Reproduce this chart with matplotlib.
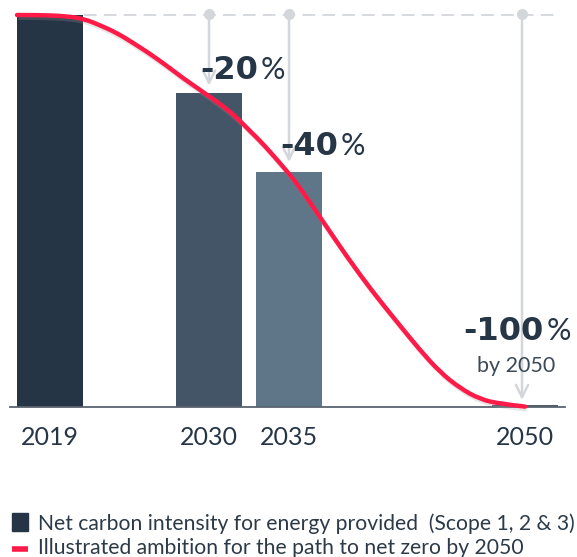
import matplotlib
matplotlib.use("Agg")
import matplotlib.pyplot as plt
from matplotlib.path import Path
from matplotlib.patches import PathPatch
from matplotlib.transforms import Affine2D

plt.rcParams['font.family'] = ['Lato', 'DejaVu Sans']

# data
years = ['2019', '2030', '2035', '2050']
intensity = [100, 80, 60, 0.4]
reduction = ['-20', '-40', '-100']
reduction_years = ['2030', '2035', '2050']

# red ambition path (x in layout px, value in % of 2019)
path_x = [17, 40, 67, 84, 100, 117, 133, 150, 167, 183, 200, 210, 220, 230, 240, 250,
          260, 270, 280, 290, 300, 322, 347, 372, 397, 420, 440, 460, 480, 500, 525]
path_v = [100, 100, 99.7, 99.0, 97.4, 95.4, 92.9, 90.1, 87.0, 83.9, 80.9, 79.1, 77.3,
          75.3, 73.0, 70.4, 67.9, 65.1, 62.2, 59.2, 55.9, 47.7, 38.3, 29.6, 21.7, 14.5,
          8.9, 4.8, 2.0, 0.8, 0.1]

legend_labels = ['Net carbon intensity for energy provided  (Scope 1, 2 & 3)',
                 'Illustrated ambition for the path to net zero by 2050']

# layout
bar_x = [50, 209, 289, 525]
bar_w = 66
bar_colors = ['#253545', '#435566', '#5f7588', '#4e5c6a']
red = '#ff1a48'
grey = '#d3d7db'
dark = '#263646'

fig = plt.figure(figsize=(5.77, 5.57), dpi=100)
ax = fig.add_axes([0, 0, 1, 1])
ax.set_xlim(0, 577)
ax.set_ylim(-38.27, 103.83)
ax.axis('off')

ax.bar(bar_x, intensity, width=bar_w, color=bar_colors, zorder=2)

# baseline
ax.plot([10, 565], [0, 0], color='#5a6470', lw=1.3, zorder=3)

# dashed line at 2019 level
ax.plot([84, 560], [100, 100], color=grey, lw=1.3, dashes=(7, 4), zorder=1)

# arrows from 2019 level down to each target
tips = {'2030': 82.0, '2035': 62.5, '2050': 1.8}
for yr in reduction_years:
    x = bar_x[years.index(yr)]
    if yr == '2050':
        x = 522
    ax.annotate('', xy=(x, tips[yr]), xytext=(x, 100.3),
                arrowprops=dict(arrowstyle='->', color=grey, lw=1.8,
                                mutation_scale=22, shrinkA=0, shrinkB=0), zorder=1)
    ax.plot(x, 100.3, 'o', color=grey, ms=8, mec='none', zorder=1)

# ambition curve, smoothed with quadratic segments through midpoints
pts = list(zip(path_x, path_v))
verts = [pts[0]]
codes = [Path.MOVETO]
for i in range(1, len(pts) - 1):
    mid = ((pts[i][0] + pts[i + 1][0]) / 2, (pts[i][1] + pts[i + 1][1]) / 2)
    verts += [pts[i], mid if i < len(pts) - 2 else pts[i + 1]]
    codes += [Path.CURVE3, Path.CURVE3]
path = Path(verts, codes)
shadow = PathPatch(path, fill=False, edgecolor='#999999', lw=3.5, alpha=0.25,
                   zorder=3.9, transform=ax.transData + Affine2D().translate(1.5, -2.5))
ax.add_patch(shadow)
ax.add_patch(PathPatch(path, fill=False, edgecolor=red, lw=3.2, capstyle='round', zorder=4))

# reduction labels
fig.canvas.draw()
rend = fig.canvas.get_renderer()
lab_pos = [(200, 83.7), (280, 64.3), (463, 17.1)]
for txt, (xl, v) in zip(reduction, lab_pos):
    t = ax.text(xl, v, txt, fontsize=23, fontweight='bold', color=dark,
                family=['DejaVu Sans'], ha='left', va='baseline', zorder=5)
    bb = t.get_window_extent(renderer=rend)
    xp = ax.transData.inverted().transform((bb.x1, bb.y0))[0] + 3
    ax.text(xp, v, '%', fontsize=22, color=dark, ha='left', va='baseline', zorder=5)
ax.text(516, 8.9, 'by 2050', fontsize=15.5, color='#3c4a58', ha='center',
        va='baseline', zorder=5)

# x labels
for x, yr in zip(bar_x, years):
    ax.text(x, -9.7, yr, fontsize=18, color=dark, ha='center', va='baseline')

# legend
ax.add_patch(plt.Rectangle((12, -31.6), 16, 4.6, color='#253545', clip_on=False))
ax.plot([12, 28], [-36.2, -36.2], color=red, lw=4, solid_capstyle='butt', clip_on=False)
ax.text(38, -31.4, legend_labels[0], fontsize=15.2, color='#2c3a48',
        ha='left', va='baseline')
ax.text(38, -37.5, legend_labels[1], fontsize=15.2, color='#2c3a48',
        ha='left', va='baseline')

fig.savefig('out.png', dpi=100)
